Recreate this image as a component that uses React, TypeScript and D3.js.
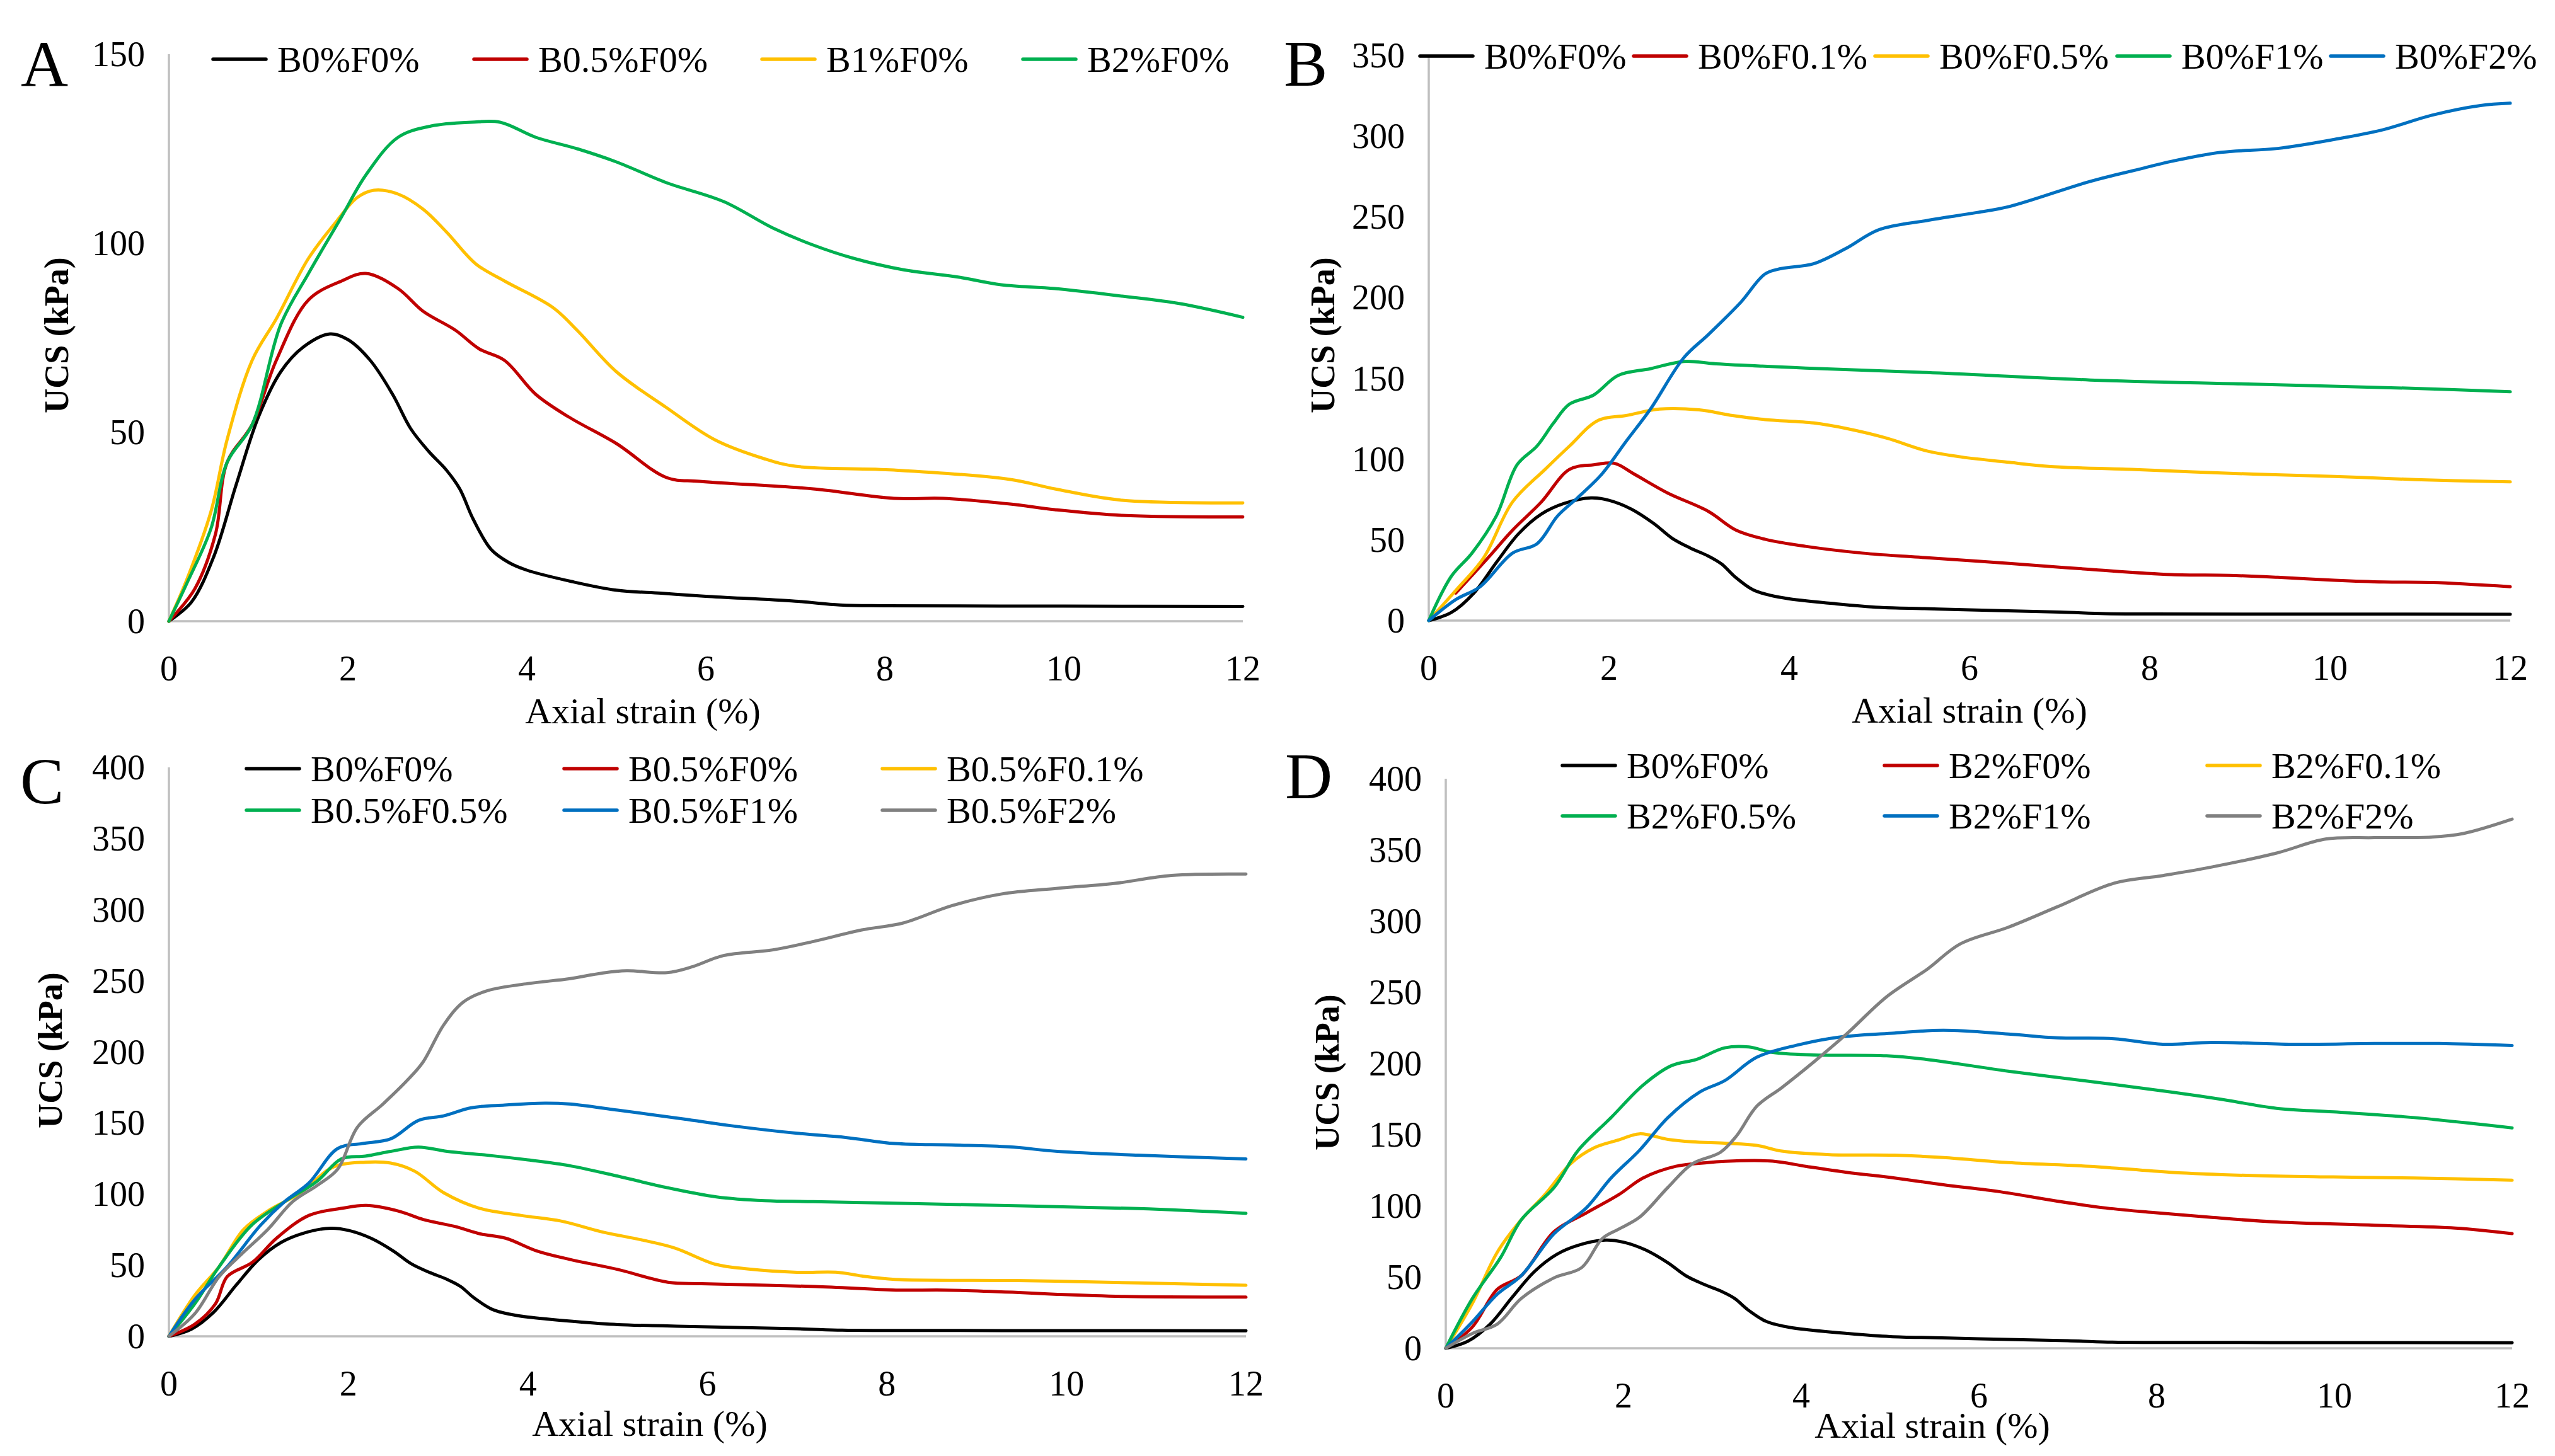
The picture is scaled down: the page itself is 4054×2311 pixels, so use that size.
import * as d3 from "d3";

type Pt = [number, number];

// strain (%) vs UCS (kPa)
const B0F0: Pt[] = [[0,0],[0.25,5],[0.5,17],[0.75,36],[1,54],[1.25,66],[1.5,72.5],[1.8,76],[2,74.5],[2.25,69],[2.5,60],[2.7,51],[2.9,45],[3.1,40],[3.25,35],[3.4,27],[3.6,19],[3.8,15.5],[4,13.5],[4.5,10.5],[5,8.2],[5.5,7.4],[6,6.6],[7,5.3],[7.5,4.3],[8,4.1],[10,4],[12,3.9]];
const B05F0: Pt[] = [[0,0],[0.29,8.6],[0.52,23],[0.65,42],[0.93,52],[1.2,69],[1.56,85],[1.93,90],[2.2,92],[2.56,88],[2.84,82],[3.2,77],[3.47,72],[3.75,69],[4.1,60],[4.47,54],[5,47],[5.56,38],[5.93,37],[7.2,35],[8.1,32.5],[8.65,32.5],[9.4,31],[9.9,29.5],[10.65,28],[12,27.6]];
const B1F0: Pt[] = [[0,0],[0.2,11],[0.47,29],[0.65,48],[0.93,69],[1.2,80],[1.56,96],[1.88,106],[2.1,112],[2.29,114],[2.56,113],[2.84,109],[3.1,103],[3.43,94.5],[3.75,90],[4.29,83],[4.56,77],[5,66],[5.56,56.5],[6.1,48],[6.65,43],[7,41],[8.1,40],[9.4,37.5],[9.9,35],[10.65,32],[12,31.3]];
const B2F0: Pt[] = [[0,0],[0.2,10],[0.47,24.5],[0.65,42],[0.93,52],[1.25,78.5],[1.56,92],[1.93,107],[2.2,118],[2.56,128],[2.93,131],[3.38,132],[3.7,132],[4.1,128],[4.56,125],[5,121.5],[5.56,116],[6.2,111],[6.75,104],[7.2,99.5],[7.65,96],[8.2,93],[8.83,91],[9.3,89],[9.9,88],[10.65,86],[11.3,84],[12,80.4]];

const B0F01: Pt[] = [[0.3,17],[0.66,39],[0.93,56],[1.25,73.5],[1.56,93.6],[1.83,96.5],[2.06,97.4],[2.28,90.7],[2.65,79],[3.1,67.7],[3.41,56],[3.73,50.4],[4.18,46],[4.81,41.8],[5.53,38.9],[6.44,35.4],[7.34,31.7],[8.24,28.5],[8.88,28],[9.42,26.8],[10.05,25],[10.6,23.9],[11.13,23.6],[12,21]];
const B0F05: Pt[] = [[0,0],[0.3,18.7],[0.61,39],[0.93,73.5],[1.29,93.6],[1.56,108],[1.88,124],[2.19,127],[2.56,131],[3,130.5],[3.37,127],[3.73,124.5],[4.27,122.4],[4.63,119],[5.08,113],[5.53,105],[5.9,101.4],[6.44,98],[6.9,95.4],[7.8,93.6],[9.15,90.7],[10.05,89.3],[10.95,87.3],[12,85.9]];
const B0F1: Pt[] = [[0,0],[0.25,27.4],[0.48,41.8],[0.75,64.8],[0.98,96.5],[1.2,108],[1.38,122],[1.56,134],[1.83,139.7],[2.1,151.8],[2.46,156],[2.83,160.5],[3.19,159],[4.18,156.4],[5.53,153.6],[7.34,149],[9.15,146.4],[10.95,143.8],[12,141.7]];
const B0F2: Pt[] = [[0,0],[0.3,13],[0.57,21],[0.93,41.8],[1.2,47.5],[1.43,64.8],[1.65,76],[1.92,90.7],[2.19,111],[2.46,131],[2.83,162.8],[3.1,177],[3.46,197],[3.73,214.6],[3.91,218],[4.27,221],[4.63,230.5],[4.99,242],[5.53,247.8],[6.08,252.7],[6.44,256.4],[7.34,272],[7.88,279.5],[8.24,284.4],[8.79,290],[9.42,292.4],[10.05,298],[10.59,304],[11.13,313],[11.67,319],[12,320.4]];

const B05F01: Pt[] = [[0,0],[0.29,29],[0.56,49],[0.83,75],[1.1,88],[1.47,101],[1.83,119],[2.19,122.4],[2.47,121.8],[2.74,116],[3.06,101],[3.46,90],[3.92,85],[4.37,81],[4.82,73.5],[5.28,67.6],[5.64,62],[6.09,50.6],[6.46,47.3],[7,45],[7.45,45],[7.72,42.4],[8.09,40],[9.45,39.2],[10.8,37.5],[12,35.9]];
const B05F05: Pt[] = [[0,0],[0.29,23],[0.56,49],[0.92,78],[1.29,94.7],[1.65,109],[1.92,124.7],[2.19,126.7],[2.47,130],[2.78,133],[3.1,130],[3.55,127.3],[4,124],[4.46,120],[5,112.6],[5.55,104.5],[6.1,98],[6.64,95.3],[7.18,94.7],[9,92.4],[10.8,89.8],[12,86.5]];
const B05F1: Pt[] = [[0,0],[0.29,26],[0.65,49],[1.02,78],[1.29,94.7],[1.56,107.8],[1.88,132],[2.15,135.5],[2.47,138.8],[2.78,151.8],[3.06,155],[3.37,160.7],[3.74,162.6],[4.19,163.9],[4.46,163.3],[5,159],[5.73,152.8],[6.27,148],[7,142.7],[7.54,139.8],[8.09,135.5],[8.72,134.5],[9.36,133.2],[9.9,130],[10.8,127.3],[12,124.7]];
const B05F2: Pt[] = [[0,0],[0.29,16],[0.56,42],[0.83,59],[1.1,75],[1.38,94.7],[1.65,106],[1.88,117.5],[2.1,147],[2.38,163],[2.65,179.6],[2.83,192.7],[3.06,218.8],[3.28,235],[3.55,243],[4,248],[4.46,251.4],[4.82,255.3],[5.1,257],[5.55,255.7],[5.82,259.6],[6.18,267.7],[6.73,271.7],[7.18,277.6],[7.72,285.7],[8.18,290.6],[8.72,302.7],[9.27,310.9],[9.9,315],[10.53,318.4],[11.17,324],[12,325]];

const B2F0D: Pt[] = [[0,0],[0.3,15],[0.58,41.4],[0.85,51],[1.22,82],[1.58,95],[1.95,108],[2.22,119.6],[2.59,127.8],[2.95,130.4],[3.32,131.7],[3.68,131.4],[4.05,127.8],[4.51,123.6],[5.05,119.6],[5.6,114.8],[6.24,109.9],[6.88,103.3],[7.43,98.5],[7.98,95.2],[8.62,91.9],[9.35,88.7],[10.45,86.4],[11.36,84.4],[12,80.5]];
const B2F01: Pt[] = [[0,0],[0.3,31.6],[0.58,67.5],[0.85,90.3],[1.12,108.2],[1.4,129.4],[1.67,140.8],[1.95,146.4],[2.18,150.6],[2.5,146.7],[2.77,145],[3.14,144],[3.5,142.5],[3.78,138.5],[4.32,136],[5.05,135.6],[5.6,134],[6.33,130.4],[7.25,127.8],[8.16,123.6],[9.07,121.3],[9.99,120.3],[10.9,119.6],[12,118]];
const B2F05: Pt[] = [[0,0],[0.3,35],[0.62,64],[0.85,90.3],[1.22,113],[1.49,139],[1.86,162],[2.22,184.8],[2.54,198.5],[2.82,202.8],[3.14,211],[3.41,211.6],[3.68,207.7],[4.14,206],[4.96,205.4],[5.42,202.8],[6.33,194.6],[7.25,187.4],[8.16,180],[8.71,175],[9.35,168.5],[9.99,166],[10.9,162],[12,154.8]];
const B2F1: Pt[] = [[0,0],[0.3,18.6],[0.58,38],[0.85,51],[1.22,80.5],[1.58,98.5],[1.86,119.6],[2.18,139],[2.5,162],[2.86,180],[3.14,188],[3.5,204.4],[3.96,213],[4.41,218.4],[5.05,221.4],[5.6,223.3],[6.33,220.7],[6.88,218],[7.52,217.4],[8.07,213.5],[8.62,214.8],[9.53,213.5],[10.45,214],[11.18,214],[12,212.6]];
const B2F2: Pt[] = [[0,0],[0.3,10.4],[0.58,17],[0.85,35],[1.22,49.5],[1.53,56.7],[1.76,77],[1.95,83.8],[2.18,92],[2.5,113],[2.77,129.4],[3.09,137.6],[3.27,149],[3.5,170],[3.78,183],[4.14,201],[4.51,220.7],[4.96,246.8],[5.42,266.3],[5.79,284],[6.33,295.7],[6.88,310],[7.52,326.6],[8.07,332],[8.62,338],[9.35,347.8],[9.9,357.6],[10.45,358.6],[11.09,359],[11.45,361.5],[12,371.6]];

const xTicks = [0, 2, 4, 6, 8, 10, 12];
const yTicksA = [0, 50, 100, 150];
const yTicksB = [0, 50, 100, 150, 200, 250, 300, 350];
const yTicksCD = [0, 50, 100, 150, 200, 250, 300, 350, 400];

const C = {
  black: "#000000",
  red: "#C00000",
  yellow: "#FFC000",
  green: "#00B050",
  blue: "#0070C0",
  gray: "#808080",
};

interface Series { name: string; color: string; data: Pt[] }

interface PanelCfg {
  letter: string; letterX: number; letterY: number;
  x0: number; x1: number; yTop: number; yBottom: number;
  yTicks: number[];
  xTitleX: number; yTitleX: number; yTitleY: number; xTitleGap: number;
  legendRows: number[]; legendCols: number[];
  series: Series[];
}

const panels: PanelCfg[] = [
  {
    letter: "A", letterX: 33, letterY: 137,
    x0: 268, x1: 1972, yTop: 86, yBottom: 986, yTicks: yTicksA,
    xTitleX: 1020, yTitleX: 90, yTitleY: 532, xTitleGap: 142,
    legendRows: [94], legendCols: [338, 752, 1209, 1623],
    series: [
      { name: "B0%F0%", color: C.black, data: B0F0 },
      { name: "B0.5%F0%", color: C.red, data: B05F0 },
      { name: "B1%F0%", color: C.yellow, data: B1F0 },
      { name: "B2%F0%", color: C.green, data: B2F0 },
    ],
  },
  {
    letter: "B", letterX: 2037, letterY: 136,
    x0: 2267, x1: 3983, yTop: 88, yBottom: 985, yTicks: yTicksB,
    xTitleX: 3125, yTitleX: 2099, yTitleY: 532, xTitleGap: 142,
    legendRows: [89], legendCols: [2253, 2592, 2975, 3359, 3698],
    series: [
      { name: "B0%F0%", color: C.black, data: B0F0 },
      { name: "B0%F0.1%", color: C.red, data: B0F01 },
      { name: "B0%F0.5%", color: C.yellow, data: B0F05 },
      { name: "B0%F1%", color: C.green, data: B0F1 },
      { name: "B0%F2%", color: C.blue, data: B0F2 },
    ],
  },
  {
    letter: "C", letterX: 32, letterY: 1275,
    x0: 268, x1: 1977, yTop: 1218, yBottom: 2121, yTicks: yTicksCD,
    xTitleX: 1031, yTitleX: 80, yTitleY: 1667, xTitleGap: 138,
    legendRows: [1220, 1286], legendCols: [391, 895, 1400],
    series: [
      { name: "B0%F0%", color: C.black, data: B0F0 },
      { name: "B0.5%F0%", color: C.red, data: B05F0 },
      { name: "B0.5%F0.1%", color: C.yellow, data: B05F01 },
      { name: "B0.5%F0.5%", color: C.green, data: B05F05 },
      { name: "B0.5%F1%", color: C.blue, data: B05F1 },
      { name: "B0.5%F2%", color: C.gray, data: B05F2 },
    ],
  },
  {
    letter: "D", letterX: 2039, letterY: 1267,
    x0: 2294, x1: 3986, yTop: 1236, yBottom: 2140, yTicks: yTicksCD,
    xTitleX: 3066, yTitleX: 2106, yTitleY: 1702, xTitleGap: 122,
    legendRows: [1215, 1295], legendCols: [2479, 2990, 3502],
    series: [
      { name: "B0%F0%", color: C.black, data: B0F0 },
      { name: "B2%F0%", color: C.red, data: B2F0D },
      { name: "B2%F0.1%", color: C.yellow, data: B2F01 },
      { name: "B2%F0.5%", color: C.green, data: B2F05 },
      { name: "B2%F1%", color: C.blue, data: B2F1 },
      { name: "B2%F2%", color: C.gray, data: B2F2 },
    ],
  },
];

const FONT = "'Liberation Serif', 'Times New Roman', serif";
const AXIS = "#BFBFBF";

function Panel({ cfg }: { cfg: PanelCfg }) {
  const yMax = cfg.yTicks[cfg.yTicks.length - 1];
  const x = d3.scaleLinear().domain([0, 12]).range([cfg.x0, cfg.x1]);
  const y = d3.scaleLinear().domain([0, yMax]).range([cfg.yBottom, cfg.yTop]);
  const line = d3.line<Pt>()
    .x(d => x(d[0]))
    .y(d => y(d[1]))
    .curve(d3.curveCatmullRom.alpha(0.5));

  const nCols = cfg.legendCols.length;

  return (
    <g>
      <text x={cfg.letterX} y={cfg.letterY} fontSize={104} fontFamily={FONT}>{cfg.letter}</text>

      {/* axes */}
      <line x1={x(0)} x2={x(0)} y1={y(0)} y2={y(yMax)} stroke={AXIS} strokeWidth={3.5} />
      <line x1={x(0)} x2={x(12)} y1={y(0)} y2={y(0)} stroke={AXIS} strokeWidth={3.5} />

      {cfg.yTicks.map(t => (
        <text key={t} x={x(0) - 38} y={y(t)} textAnchor="end" dominantBaseline="central"
          fontSize={56} fontFamily={FONT}>{t}</text>
      ))}
      {xTicks.map(t => (
        <text key={t} x={x(t)} y={y(0) + 75} textAnchor="middle" dominantBaseline="central"
          fontSize={56} fontFamily={FONT}>{t}</text>
      ))}

      <text x={cfg.xTitleX} y={y(0) + cfg.xTitleGap} textAnchor="middle" dominantBaseline="central"
        fontSize={58} fontFamily={FONT}>Axial strain (%)</text>
      <text transform={`translate(${cfg.yTitleX},${cfg.yTitleY}) rotate(-90)`} textAnchor="middle"
        dominantBaseline="central" fontSize={54} fontWeight="bold" fontFamily={FONT}>UCS (kPa)</text>

      {/* curves */}
      {cfg.series.map(s => (
        <path key={s.name} d={line(s.data) ?? ""} fill="none" stroke={s.color} strokeWidth={5}
          strokeLinejoin="round" strokeLinecap="round" />
      ))}

      {/* legend */}
      {cfg.series.map((s, i) => {
        const lx = cfg.legendCols[i % nCols];
        const ly = cfg.legendRows[Math.floor(i / nCols)];
        return (
          <g key={s.name}>
            <line x1={lx} x2={lx + 84} y1={ly} y2={ly} stroke={s.color} strokeWidth={5.5} strokeLinecap="round" />
            <text x={lx + 102} y={ly} dominantBaseline="central" fontSize={58} fontFamily={FONT}>{s.name}</text>
          </g>
        );
      })}
    </g>
  );
}

export default function App() {
  return (
    <svg width={4054} height={2311} viewBox="0 0 4054 2311"
      style={{ position: "absolute", left: 0, top: 0, background: "#fff" }}>
      <rect width={4054} height={2311} fill="#fff" />
      {panels.map(p => <Panel key={p.letter} cfg={p} />)}
    </svg>
  );
}
